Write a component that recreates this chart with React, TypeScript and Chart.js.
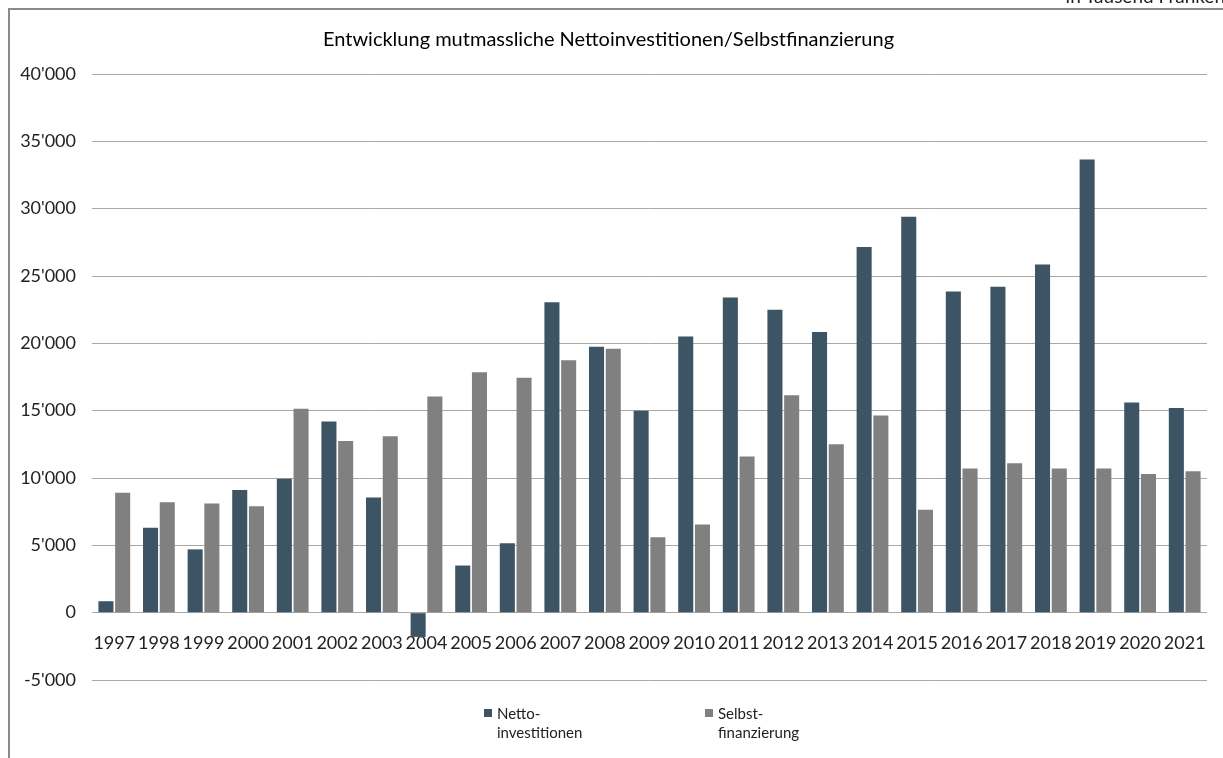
import React, { useEffect, useRef } from "react";
import { Chart, registerables } from "chart.js";

Chart.register(...registerables);

const years = ["1997","1998","1999","2000","2001","2002","2003","2004","2005","2006","2007","2008","2009","2010","2011","2012","2013","2014","2015","2016","2017","2018","2019","2020","2021"];
const nettoinvestitionen = [850, 6300, 4700, 9100, 9950, 14200, 8550, -1800, 3500, 5150, 23050, 19750, 15000, 20500, 23400, 22500, 20850, 27150, 29400, 23850, 24200, 25850, 33650, 15600, 15200];
const selbstfinanzierung = [8900, 8200, 8100, 7900, 15150, 12750, 13100, 16050, 17850, 17450, 18750, 19600, 5600, 6550, 11600, 16150, 12500, 14650, 7650, 10700, 11100, 10700, 10700, 10300, 10500];
const legendLabels = [["Netto-", "investitionen"], ["Selbst-", "finanzierung"]];
const titleText = "Entwicklung mutmassliche Nettoinvestitionen/Selbstfinanzierung";
const unitText = "in Tausend Franken";

const DARK = "#3d5465";
const GRAY = "#808080";
const FONT = "Lato";

function fmt(v: number): string {
  const s = Math.abs(v).toString().replace(/\B(?=(\d{3})+(?!\d))/g, "'");
  return (v < 0 ? "-" : "") + s;
}

export default function App() {
  const ref = useRef<HTMLCanvasElement | null>(null);
  useEffect(() => {
    if (!ref.current) return;
    const chart = new Chart(ref.current, {
      type: "bar",
      data: {
        labels: years,
        datasets: [
          { label: "Netto-investitionen", data: nettoinvestitionen, backgroundColor: DARK, categoryPercentage: 0.75, barPercentage: 0.9 },
          { label: "Selbst-finanzierung", data: selbstfinanzierung, backgroundColor: GRAY, categoryPercentage: 0.75, barPercentage: 0.9 },
        ],
      },
      options: {
        animation: false,
        responsive: false,
        devicePixelRatio: 1,
        layout: { padding: { top: 0, right: 16, bottom: 78, left: 0 } },
        plugins: {
          legend: { display: false },
          tooltip: { enabled: false },
          title: {
            display: true,
            text: titleText,
            color: "#000",
            font: { family: FONT, size: 20, weight: "normal" },
            padding: { top: 18, bottom: 22 },
          },
        },
        scales: {
          x: {
            position: { y: 0 } as any,
            grid: { display: false },
            border: { display: false },
            ticks: { color: "#222", font: { family: FONT, size: 18 }, padding: 12, maxRotation: 0, autoSkip: false },
          },
          y: {
            min: -5000,
            max: 40000,
            afterFit: (s: any) => { s.width = 82; },
            grid: { color: "#a8a8a8", lineWidth: 1, drawTicks: false },
            border: { display: false },
            ticks: { stepSize: 5000, color: "#222", font: { family: FONT, size: 18 }, padding: 16, callback: (v: any) => fmt(Number(v)) },
          },
        },
      },
    });
    return () => chart.destroy();
  }, []);

  const legendItem = (color: string, lines: string[], left: number, textLeft: number) => (
    <div style={{ position: "absolute", left: 0, top: 0 }}>
      <div style={{ position: "absolute", left: left, top: 699, width: 8, height: 8, background: color }} />
      <div style={{ position: "absolute", left: textLeft, top: 694, fontFamily: FONT, fontSize: 15, lineHeight: "19px", color: "#222", whiteSpace: "nowrap" }}>
        {lines.map((l, i) => <div key={i}>{l}</div>)}
      </div>
    </div>
  );

  return (
    <div style={{ position: "fixed", left: 8, top: 8, width: 1213, height: 748, borderLeft: "2px solid #8a8a8a", borderTop: "2px solid #8a8a8a", overflow: "visible", background: "#fff" }}>
      <div style={{ position: "absolute", right: -2, top: -25, fontFamily: FONT, fontSize: 19, lineHeight: "22px", color: "#222", whiteSpace: "nowrap" }}>{unitText}</div>
      <canvas ref={ref} width={1213} height={748} style={{ display: "block", width: 1213, height: 748 }} />
      {legendItem(DARK, legendLabels[0], 474, 487)}
      {legendItem(GRAY, legendLabels[1], 695, 708)}
    </div>
  );
}
